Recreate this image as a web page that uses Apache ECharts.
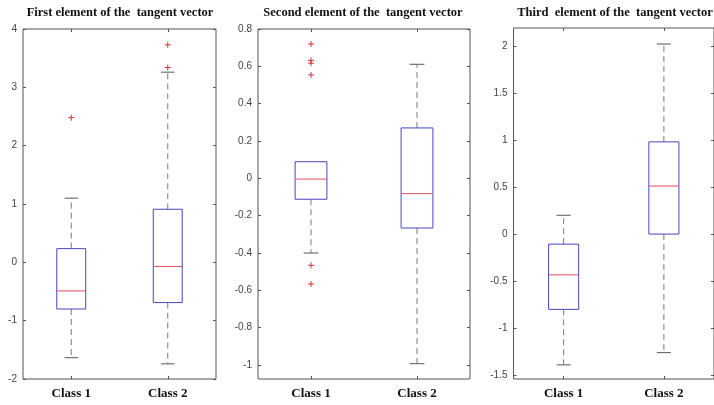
<!DOCTYPE html>
<html>
<head>
<meta charset="utf-8">
<script src="https://cdn.jsdelivr.net/npm/echarts@6/dist/echarts.min.js"></script>
<style>
html,body{margin:0;padding:0;background:#fff;}
#chart{width:714px;height:405px;}
</style>
</head>
<body>
<div id="chart"></div>
<script>
// ---- data ----
const categories = ['Class 1', 'Class 2'];
const panelTitles = [
  'First element of the  tangent vector',
  'Second element of the  tangent vector',
  'Third  element of the  tangent vector'
];
// each box: [lower whisker, Q1, median, Q3, upper whisker]
const firstBoxes = [
  [-1.635, -0.80, -0.49, 0.235, 1.10],
  [-1.74, -0.69, -0.07, 0.91, 3.26]
];
const firstOutliers = [[0, 2.48], [1, 3.34], [1, 3.73]];
const secondBoxes = [
  [-0.40, -0.112, -0.004, 0.089, 0.089],
  [-0.993, -0.266, -0.082, 0.27, 0.611]
];
const secondOutliers = [[0, 0.72], [0, 0.632], [0, 0.617], [0, 0.554], [0, -0.466], [0, -0.566]];
const thirdBoxes = [
  [-1.39, -0.80, -0.433, -0.107, 0.20],
  [-1.26, 0.0, 0.51, 0.98, 2.02]
];
const thirdOutliers = [];
const firstTicks = [-2, -1, 0, 1, 2, 3, 4];
const secondTicks = [-1, -0.8, -0.6, -0.4, -0.2, 0, 0.2, 0.4, 0.6, 0.8];
const thirdTicks = [-1.5, -1, -0.5, 0, 0.5, 1, 1.5, 2];
const firstRange = [-2, 4];
const secondRange = [-1.075, 0.8];
const thirdRange = [-1.54, 2.19];

// ---- styling ----
const BOX_COLOR = '#4646c0';
const MED_COLOR = '#e0505a';
const WHISK_COLOR = '#7a7a7a';
const CAP_COLOR = '#555555';
const OUT_COLOR = '#d8303a';
const FRAME = '#555555';

const panels = [
  {boxes: firstBoxes, outliers: firstOutliers, ticks: firstTicks, range: firstRange,
   grid: {left: 23, right: 498, top: 29, bottom: 26}},
  {boxes: secondBoxes, outliers: secondOutliers, ticks: secondTicks, range: secondRange,
   grid: {left: 258, right: 244, top: 29, bottom: 26}},
  {boxes: thirdBoxes, outliers: thirdOutliers, ticks: thirdTicks, range: thirdRange,
   grid: {left: 513.5, right: -8, top: 28, bottom: 26}}
];

const grid = [], xAxis = [], yAxis = [], series = [], graphic = [];
panels.forEach((p, i) => {
  grid.push(Object.assign({show: true, borderColor: FRAME, borderWidth: 1, backgroundColor: '#fff', containLabel: false}, p.grid));
  // bottom category axis
  xAxis.push({
    type: 'category', gridIndex: i, data: categories, position: 'bottom',
    axisLine: {show: false, onZero: false},
    axisTick: {show: true, inside: true, alignWithLabel: true, length: 3, lineStyle: {color: FRAME}},
    axisLabel: {margin: 8, color: '#111', fontFamily: '"Liberation Serif", "Times New Roman", serif', fontWeight: 'bold', fontSize: 13}
  });
  // top mirror axis
  xAxis.push({
    type: 'category', gridIndex: i, data: categories, position: 'top',
    axisLine: {show: false, onZero: false},
    axisTick: {show: true, inside: true, alignWithLabel: true, length: 3, lineStyle: {color: FRAME}},
    axisLabel: {show: false}
  });
  const yBase = {
    type: 'value', gridIndex: i, min: p.range[0], max: p.range[1],
    splitLine: {show: false}, axisLine: {show: false, onZero: false}
  };
  yAxis.push(Object.assign({}, yBase, {
    position: 'left',
    axisTick: {show: true, inside: true, length: 3, lineStyle: {color: FRAME}, customValues: p.ticks},
    axisLabel: {show: true, margin: 6, color: '#444', fontFamily: '"Liberation Sans", Arial, sans-serif', fontSize: 10,
      customValues: p.ticks, formatter: v => String(v)}
  }));
  yAxis.push(Object.assign({}, yBase, {
    position: 'right',
    axisTick: {show: true, inside: true, length: 3, lineStyle: {color: FRAME}, customValues: p.ticks},
    axisLabel: {show: false, customValues: p.ticks}
  }));
  const xi = i * 2, yi = i * 2;
  series.push({
    type: 'custom', xAxisIndex: xi, yAxisIndex: yi, clip: true,
    data: p.boxes.map((b, k) => [k].concat(b)),
    encode: {x: 0, y: [1, 2, 3, 4, 5]},
    renderItem: (params, api) => {
      const c = api.value(0);
      const v = [1, 2, 3, 4, 5].map(k => api.value(k));
      const py = val => api.coord([c, val])[1];
      const cx = api.coord([c, v[2]])[0];
      const band = api.size([1, 0])[0];
      const bw = band * 0.3, cw = band * 0.14;
      const yMin = py(v[0]), yQ1 = py(v[1]), yMed = py(v[2]), yQ3 = py(v[3]), yMax = py(v[4]);
      const ch = [];
      if (yMax < yQ3 - 0.5) {
        ch.push({type: 'line', shape: {x1: cx, y1: yQ3, x2: cx, y2: yMax}, style: {stroke: WHISK_COLOR, lineWidth: 1, lineDash: [6, 4]}});
        ch.push({type: 'line', shape: {x1: cx - cw / 2, y1: yMax, x2: cx + cw / 2, y2: yMax}, style: {stroke: CAP_COLOR, lineWidth: 1}});
      }
      if (yMin > yQ1 + 0.5) {
        ch.push({type: 'line', shape: {x1: cx, y1: yQ1, x2: cx, y2: yMin}, style: {stroke: WHISK_COLOR, lineWidth: 1, lineDash: [6, 4]}});
        ch.push({type: 'line', shape: {x1: cx - cw / 2, y1: yMin, x2: cx + cw / 2, y2: yMin}, style: {stroke: CAP_COLOR, lineWidth: 1}});
      }
      ch.push({type: 'rect', shape: {x: cx - bw / 2, y: yQ3, width: bw, height: yQ1 - yQ3}, style: {fill: 'none', stroke: BOX_COLOR, lineWidth: 1}});
      ch.push({type: 'line', shape: {x1: cx - bw / 2, y1: yMed, x2: cx + bw / 2, y2: yMed}, style: {stroke: MED_COLOR, lineWidth: 1}});
      return {type: 'group', children: ch};
    }
  });
  series.push({
    type: 'custom', xAxisIndex: xi, yAxisIndex: yi, clip: true,
    data: p.outliers,
    encode: {x: 0, y: 1},
    renderItem: (params, api) => {
      const pt = api.coord([api.value(0), api.value(1)]);
      const r = 3;
      return {type: 'group', children: [
        {type: 'line', shape: {x1: pt[0] - r, y1: pt[1], x2: pt[0] + r, y2: pt[1]}, style: {stroke: OUT_COLOR, lineWidth: 1}},
        {type: 'line', shape: {x1: pt[0], y1: pt[1] - r, x2: pt[0], y2: pt[1] + r}, style: {stroke: OUT_COLOR, lineWidth: 1}}
      ]};
    }
  });
});

const titleCenters = [120, 363, 615];
panelTitles.forEach((t, i) => {
  graphic.push({
    type: 'text', x: titleCenters[i], y: 13,
    style: {text: t, textAlign: 'center', textVerticalAlign: 'middle', fill: '#111',
      font: 'bold 12.5px "Liberation Serif", "Times New Roman", serif'}
  });
});

const chart = echarts.init(document.getElementById('chart'), null, {renderer: 'canvas'});
chart.setOption({
  animation: false,
  backgroundColor: '#fff',
  grid, xAxis, yAxis, series, graphic
});
</script>
</body>
</html>
